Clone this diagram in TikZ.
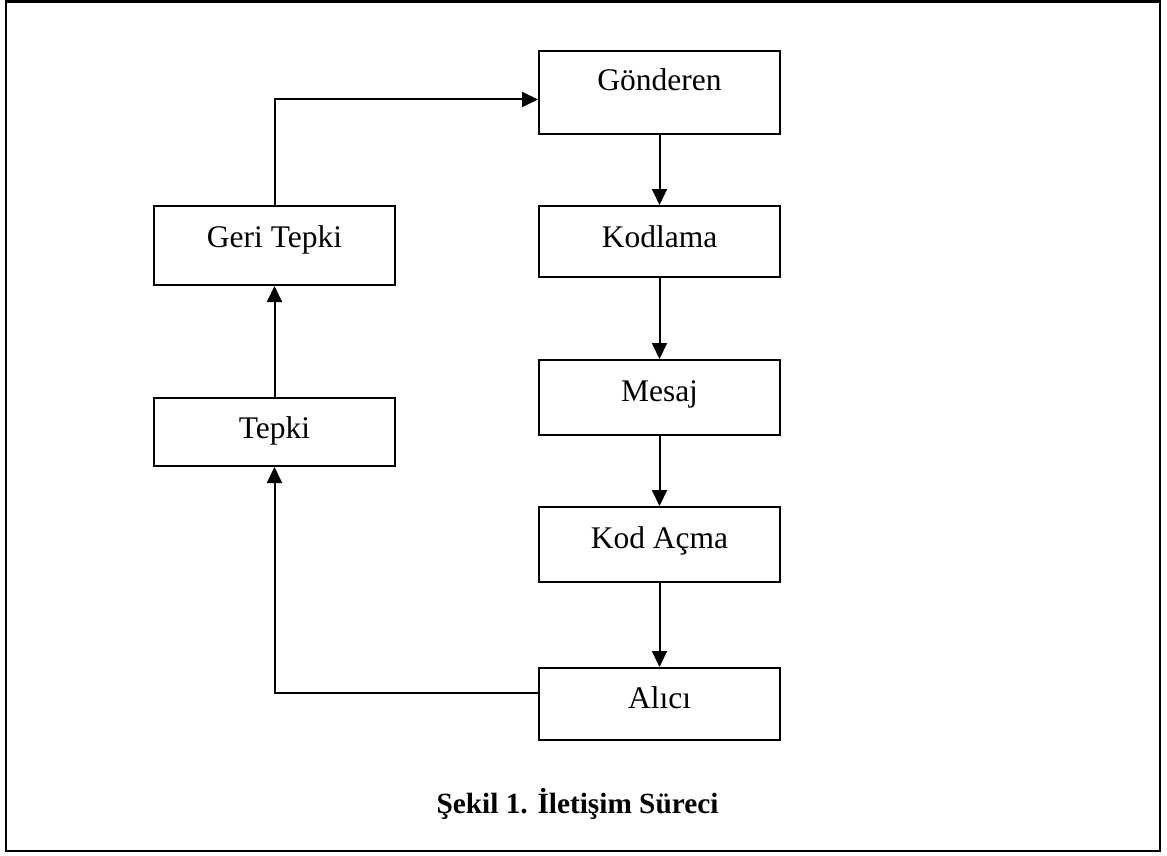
\documentclass[tikz,border=0pt]{standalone}
\usepackage{fontspec}
\setmainfont{Liberation Serif}
\usetikzlibrary{arrows.meta}
\begin{document}
\begin{tikzpicture}[x=1pt,y=-1pt,
  boxst/.style={draw, line width=2pt, rectangle, minimum width=241pt, inner sep=2pt,
    font=\fontsize{31.5}{38}\selectfont, text height=22pt},
  arr/.style={line width=2pt, -{Triangle[length=16pt,width=15pt]}},
  thinline/.style={line width=1.5pt},
  frame/.style={line width=2.8pt}]
\useasboundingbox (0,0) rectangle (1167,856);
\draw[frame] (6,1.5) rectangle (1160,851);
\node[boxst, minimum height=83pt, text depth=25pt] (gon) at (659.5,92.5) {Gönderen};
\node[boxst, minimum height=71pt, text depth=11pt] (kod) at (659.5,241.5) {Kodlama};
\node[boxst, minimum height=75pt, text depth=15pt] (mes) at (659.5,397.5) {Mesaj};
\node[boxst, minimum height=75pt, text depth=15pt] (kac) at (659.5,544.5) {Kod Açma};
\node[boxst, minimum height=72pt, text depth=14pt] (ali) at (659.5,704) {Alıcı};
\node[boxst, minimum height=79pt, text depth=19pt] (ger) at (274.5,245.5) {Geri Tepki};
\node[boxst, minimum height=68pt, text depth=10pt] (tep) at (274.5,432) {Tepki};
\node[font=\fontsize{29.3}{35}\selectfont\bfseries, anchor=base] (cap) at (577.5,813) {Şekil 1. İletişim Süreci};
\draw[arr] (gon) -- (kod);
\draw[arr] (kod) -- (mes);
\draw[arr] (mes) -- (kac);
\draw[arr] (kac) -- (ali);
\coordinate (corner) at ([yshift=11pt]ali.west -| tep.south);
\draw[thinline] ([yshift=11pt]ali.west) -- (corner);
\draw[arr] ([yshift=-0.75pt]corner) -- (tep.south);
\draw[arr] (tep) -- (ger);
\draw[arr] (ger.north) |- ([yshift=-7pt]gon.west);
\end{tikzpicture}
\end{document}
